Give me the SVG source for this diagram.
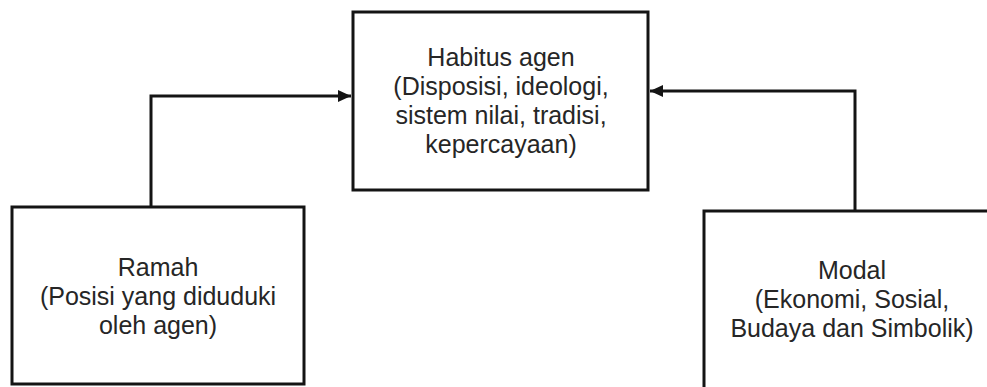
<svg xmlns="http://www.w3.org/2000/svg" width="987" height="387" viewBox="0 0 987 387">
<defs>
<style>
.box{fill:#fff;stroke:#141414;stroke-width:3}
.lbl{font-family:"Liberation Sans",Arial,sans-serif;font-size:25px;fill:#262626;text-anchor:middle}
.conn{fill:none;stroke:#141414;stroke-width:3}
</style>
<marker id="arr" markerUnits="userSpaceOnUse" markerWidth="14" markerHeight="14" refX="13" refY="7" orient="auto">
<path d="M0,1 L13,7 L0,13 Z" fill="#141414"/>
</marker>
</defs>
<rect width="987" height="387" fill="#fff"/>
<g id="connectors">
<path class="conn" d="M151,207 V96 H351" marker-end="url(#arr)"/>
<path class="conn" d="M855,211 V91 H650" marker-end="url(#arr)"/>
</g>
<g id="habitus">
<rect class="box" x="353" y="12" width="295" height="178"/>
<text class="lbl"><tspan x="501" y="66">Habitus agen</tspan><tspan x="501" y="95">(Disposisi, ideologi,</tspan><tspan x="501" y="124">sistem nilai, tradisi,</tspan><tspan x="501" y="153">kepercayaan)</tspan></text>
</g>
<g id="ramah">
<rect class="box" x="12" y="207" width="292" height="177"/>
<text class="lbl"><tspan x="158" y="276">Ramah</tspan><tspan x="158" y="305">(Posisi yang diduduki</tspan><tspan x="158" y="334">oleh agen)</tspan></text>
</g>
<g id="modal">
<rect class="box" x="704" y="211" width="300" height="190"/>
<text class="lbl"><tspan x="852" y="279">Modal</tspan><tspan x="852" y="308">(Ekonomi, Sosial,</tspan><tspan x="852" y="337">Budaya dan Simbolik)</tspan></text>
</g>
</svg>
